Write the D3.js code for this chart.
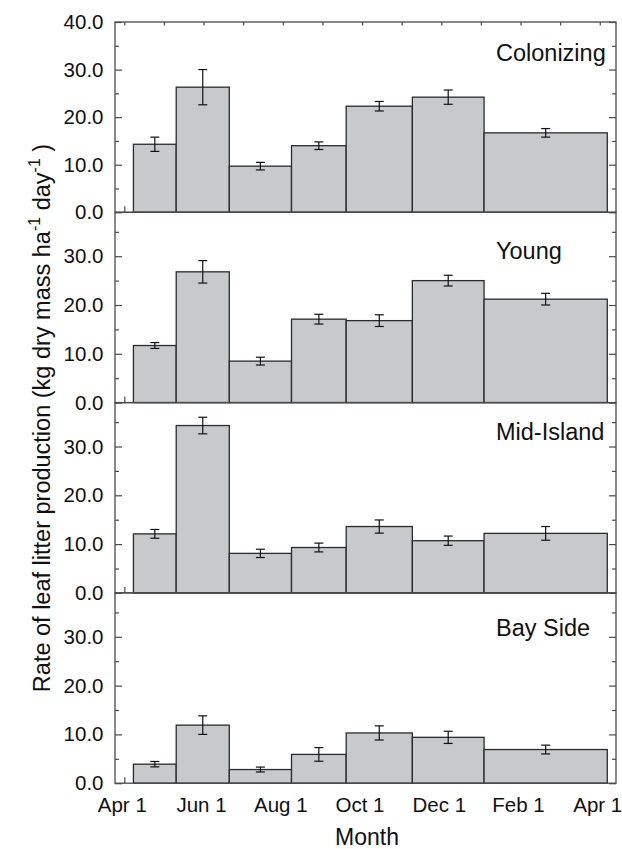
<!DOCTYPE html>
<html lang="en">
<head>
    <meta charset="UTF-8">
    <title>Leaf litter production</title>
    <script src="https://d3js.org/d3.v7.min.js"></script>
    <style>
        body {
            margin: 0;
            background: #fff;
            font-family: "Liberation Sans", Arial, Helvetica, sans-serif;
        }
        svg { display: block; }
        .tick line { stroke: #4a4a4a; stroke-width: 1.2; }
        .tick text { fill: #111; }
    </style>
</head>
<body>
<svg width="622" height="849"></svg>

<script>
    // collection periods, in months after Apr 1
    const periodStart = [0.23, 1.31, 2.65, 4.22, 5.60, 7.27, 9.08];
    const periodEnd = [1.31, 2.65, 4.22, 5.60, 7.27, 9.08, 12.19];

    const monthTicks = [0, 2, 4, 6, 8, 10, 12];
    const monthLabels = ["Apr 1", "Jun 1", "Aug 1", "Oct 1", "Dec 1", "Feb 1", "Apr 1"];

    const sites = ["Colonizing", "Young", "Mid-Island", "Bay Side"];

    const colonizing = [14.3, 26.3, 9.7, 14.0, 22.3, 24.2, 16.7];
    const colonizingSE = [1.5, 3.7, 0.8, 0.8, 1.0, 1.5, 0.9];
    const young = [11.7, 26.8, 8.5, 17.1, 16.8, 25.0, 21.2];
    const youngSE = [0.6, 2.3, 0.8, 1.0, 1.2, 1.1, 1.2];
    const midIsland = [12.1, 34.3, 8.1, 9.3, 13.6, 10.7, 12.2];
    const midIslandSE = [0.9, 1.7, 0.85, 0.9, 1.35, 0.95, 1.4];
    const baySide = [3.9, 11.9, 2.8, 5.9, 10.3, 9.4, 6.9];
    const baySideSE = [0.55, 1.9, 0.5, 1.4, 1.45, 1.25, 0.9];

    const values = [colonizing, young, midIsland, baySide];
    const errors = [colonizingSE, youngSE, midIslandSE, baySideSE];

    // top panel runs to 40, the others stop just under it
    const yMax = [40, 39, 39, 39];

    const plotLeft = 115, plotRight = 616, plotTop = 22, panelH = 190.3;
    const labelDy = [39, 47, 37, 43];
    const font = 20.5;

    const svg = d3.select("svg");

    const x = d3.scaleLinear()
        .domain([-0.235, 12.41])
        .range([plotLeft, plotRight]);

    const fmt = d3.format(".1f");

    sites.forEach((site, p) => {
        const y0 = plotTop + p * panelH;
        const y = d3.scaleLinear()
            .domain([0, yMax[p]])
            .range([y0 + panelH, y0]);

        const g = svg.append("g");

        // y ticks, pointing inward
        const majors = p === 0 ? [0, 10, 20, 30, 40] : [0, 10, 20, 30];
        const minors = [5, 15, 25, 35];

        g.append("g")
            .attr("transform", `translate(${plotLeft},0)`)
            .call(d3.axisLeft(y).tickValues(majors).tickSize(-7).tickPadding(11.5).tickFormat(fmt))
            .call(a => a.select(".domain").remove())
            .selectAll("text").style("font-size", font + "px");
        g.append("g")
            .attr("transform", `translate(${plotLeft},0)`)
            .call(d3.axisLeft(y).tickValues(minors).tickSize(-4).tickFormat(""))
            .call(a => a.select(".domain").remove());
        g.append("g")
            .attr("transform", `translate(${plotRight},0)`)
            .call(d3.axisRight(y).tickValues(majors).tickSize(-7).tickFormat(""))
            .call(a => a.select(".domain").remove());
        g.append("g")
            .attr("transform", `translate(${plotRight},0)`)
            .call(d3.axisRight(y).tickValues(minors).tickSize(-4).tickFormat(""))
            .call(a => a.select(".domain").remove());

        // month ticks
        g.append("g")
            .attr("transform", `translate(0,${y(0)})`)
            .call(d3.axisBottom(x).tickValues(d3.range(13)).tickSize(-6).tickFormat(""))
            .call(a => a.select(".domain").remove());
        if (p === 0) {
            g.append("g")
                .attr("transform", `translate(0,${y0})`)
                .call(d3.axisTop(x).tickValues(d3.range(13)).tickSize(-3.5).tickFormat(""))
                .call(a => a.select(".domain").remove());
        }

        // bars
        g.selectAll("rect.bar")
            .data(values[p])
            .join("rect")
            .attr("class", "bar")
            .attr("x", (d, i) => x(periodStart[i]))
            .attr("width", (d, i) => x(periodEnd[i]) - x(periodStart[i]))
            .attr("y", d => y(d))
            .attr("height", d => y(0) - y(d))
            .attr("fill", "#c8c9cb")
            .attr("stroke", "#2b2b2b")
            .attr("stroke-width", 1.3);

        // error bars
        const eb = g.selectAll("g.err")
            .data(values[p])
            .join("g")
            .attr("class", "err")
            .attr("stroke", "#111")
            .attr("stroke-width", 1.2);
        const cx = (d, i) => (x(periodStart[i]) + x(periodEnd[i])) / 2;
        eb.append("line")
            .attr("x1", cx).attr("x2", cx)
            .attr("y1", (d, i) => y(d - errors[p][i]))
            .attr("y2", (d, i) => y(d + errors[p][i]));
        eb.append("line")
            .attr("x1", (d, i) => cx(d, i) - 4.5).attr("x2", (d, i) => cx(d, i) + 4.5)
            .attr("y1", (d, i) => y(d + errors[p][i]))
            .attr("y2", (d, i) => y(d + errors[p][i]));
        eb.append("line")
            .attr("x1", (d, i) => cx(d, i) - 4.5).attr("x2", (d, i) => cx(d, i) + 4.5)
            .attr("y1", (d, i) => y(d - errors[p][i]))
            .attr("y2", (d, i) => y(d - errors[p][i]));

        // frame
        g.append("rect")
            .attr("x", plotLeft)
            .attr("y", y0)
            .attr("width", plotRight - plotLeft)
            .attr("height", panelH)
            .attr("fill", "none")
            .attr("stroke", "#4a4a4a")
            .attr("stroke-width", 1.3);

        g.append("text")
            .attr("x", 496)
            .attr("y", y0 + labelDy[p])
            .style("font-size", "23.5px")
            .attr("fill", "#111")
            .text(site);
    });

    // month labels under the bottom panel
    const plotBottom = plotTop + 4 * panelH;
    svg.append("g")
        .selectAll("text")
        .data(monthTicks)
        .join("text")
        .attr("x", d => x(d) - 2)
        .attr("y", plotBottom + 28.4)
        .attr("text-anchor", "middle")
        .style("font-size", font + "px")
        .attr("fill", "#111")
        .text((d, i) => monthLabels[i]);

    svg.append("text")
        .attr("x", 367)
        .attr("y", 845)
        .attr("text-anchor", "middle")
        .style("font-size", "23px")
        .attr("fill", "#111")
        .text("Month");

    // y title with superscripts
    const yt = svg.append("text")
        .attr("transform", "translate(50,418) rotate(-90)")
        .attr("text-anchor", "middle")
        .style("font-size", "23.5px")
        .attr("fill", "#111");
    yt.append("tspan").text("Rate of leaf litter production (kg dry mass ha");
    yt.append("tspan").attr("dy", -10).style("font-size", "16px").text("-1");
    yt.append("tspan").attr("dy", 10).text(" day");
    yt.append("tspan").attr("dy", -10).style("font-size", "16px").text("-1");
    yt.append("tspan").attr("dy", 10).text(" )");
</script>

</body>
</html>
